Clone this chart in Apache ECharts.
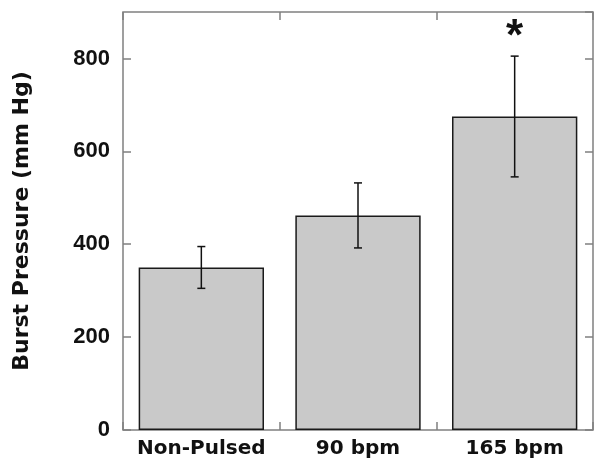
<!DOCTYPE html>
<html>
<head>
<meta charset="utf-8">
<script src="https://cdn.jsdelivr.net/npm/echarts@6/dist/echarts.min.js"></script>
<style>
  html, body { margin: 0; padding: 0; background: #fff; }
  #chart { width: 600px; height: 470px; }
</style>
</head>
<body>
<div id="chart"></div>
<script>
  // values
  var categories = ['Non-Pulsed', '90 bpm', '165 bpm']
  var means = [350, 462, 675]
  var errors = [45, 70, 130]
  var marks = ['', '', '*']

  var font = 'Liberation Sans, Arial, Helvetica, sans-serif'
  var wide = 'DejaVu Sans, Verdana, sans-serif'
  var frame = '#808080'

  var chart = echarts.init(document.getElementById('chart'))

  var errData = categories.map(function (c, i) {
    return [i, means[i] - errors[i], means[i] + errors[i], marks[i]]
  })

  // ticks point into the plot box on all four sides
  var innerTick = { show: true, inside: true, length: 8, lineStyle: { color: frame, width: 1.5 } }

  chart.setOption({
    animation: false,
    grid: {
      left: 123,
      right: 7,
      top: 12,
      bottom: 40,
      containLabel: false,
      outerBoundsMode: 'none',
      show: true,
      borderColor: frame,
      borderWidth: 1.5
    },
    xAxis: [
      {
        type: 'category',
        position: 'bottom',
        data: categories,
        axisLine: { show: false, onZero: false },
        axisTick: innerTick,
        axisLabel: {
          interval: 0,
          margin: 9,
          fontSize: 20,
          fontWeight: 'bold',
          fontFamily: wide,
          color: '#111'
        }
      },
      {
        type: 'category',
        position: 'top',
        data: categories,
        axisLine: { show: false, onZero: false },
        axisTick: innerTick,
        axisLabel: { show: false }
      }
    ],
    yAxis: [
      {
        type: 'value',
        min: 0,
        max: 900,
        interval: 200,
        name: 'Burst Pressure (mm Hg)',
        nameLocation: 'middle',
        nameGap: 90,
        nameTextStyle: {
          fontSize: 22,
          fontWeight: 'bold',
          fontFamily: wide,
          color: '#111'
        },
        splitLine: { show: false },
        axisLine: { show: false, onZero: false },
        axisTick: innerTick,
        axisLabel: {
          margin: 13,
          fontSize: 22,
          fontWeight: 'bold',
          fontFamily: font,
          color: '#111',
          showMaxLabel: false
        }
      },
      {
        type: 'value',
        position: 'right',
        min: 0,
        max: 900,
        interval: 200,
        splitLine: { show: false },
        axisLine: { show: false, onZero: false },
        axisTick: innerTick,
        axisLabel: { show: false }
      }
    ],
    series: [
      {
        type: 'bar',
        data: means,
        barWidth: '80%',
        itemStyle: {
          color: '#c9c9c9',
          borderColor: '#1a1a1a',
          borderWidth: 1.5
        }
      },
      {
        type: 'custom',
        data: errData,
        z: 5,
        renderItem: function (params, api) {
          var lo = api.coord([api.value(0), api.value(1)])
          var hi = api.coord([api.value(0), api.value(2)])
          var cap = 4
          var style = { stroke: '#111', lineWidth: 1.5 }
          var kids = [
            { type: 'line', shape: { x1: hi[0], y1: hi[1], x2: lo[0], y2: lo[1] }, style: style },
            { type: 'line', shape: { x1: hi[0] - cap, y1: hi[1], x2: hi[0] + cap, y2: hi[1] }, style: style },
            { type: 'line', shape: { x1: lo[0] - cap, y1: lo[1], x2: lo[0] + cap, y2: lo[1] }, style: style }
          ]
          var m = marks[params.dataIndex]
          if (m) {
            // significance star above the error bar
            kids.push({
              type: 'text',
              style: {
                text: m,
                x: hi[0],
                y: hi[1] + 4,
                align: 'center',
                verticalAlign: 'bottom',
                fontSize: 44,
                fontWeight: 'bold',
                fontFamily: font,
                fill: '#111'
              }
            })
          }
          return { type: 'group', children: kids }
        }
      }
    ]
  })
</script>
</body>
</html>
